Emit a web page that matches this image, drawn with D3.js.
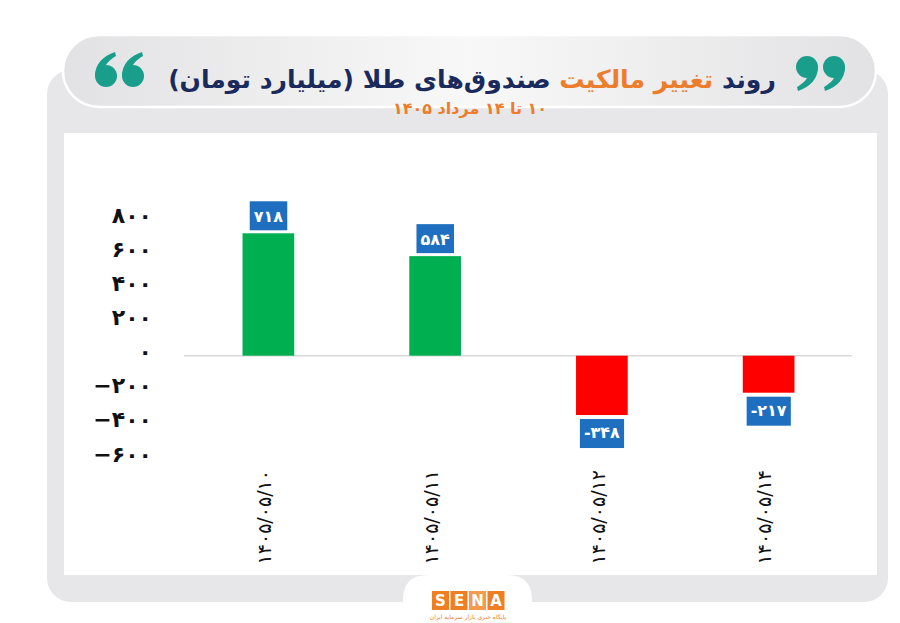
<!DOCTYPE html>
<html>
<head>
<meta charset="utf-8">
<script src="https://cdn.jsdelivr.net/npm/d3@7"></script>
<style>
  html, body { margin: 0; padding: 0; background: #fff; }
  svg { display: block; font-family: "DejaVu Sans", sans-serif; }
</style>
</head>
<body>
<svg id="chart" width="900" height="623"></svg>
<script>
// data
const dates = ["۱۴۰۵/۰۵/۱۰", "۱۴۰۵/۰۵/۱۱", "۱۴۰۵/۰۵/۱۲", "۱۴۰۵/۰۵/۱۴"];
const values = [718, 584, -348, -217];
const valueLabels = ["۷۱۸", "۵۸۴", "-۳۴۸", "-۲۱۷"];
const yTicks = [800, 600, 400, 200, 0, -200, -400, -600];
const yTickLabels = ["۸۰۰", "۶۰۰", "۴۰۰", "۲۰۰", "۰", "−۲۰۰", "−۴۰۰", "−۶۰۰"];

const width = 900, height = 623;
const svg = d3.select("#chart");
const defs = svg.append("defs");

const headGrad = defs.append("linearGradient")
    .attr("id", "headGrad")
    .attr("x1", "0%").attr("x2", "100%").attr("y1", "0%").attr("y2", "0%");
headGrad.append("stop").attr("offset", "0%").attr("stop-color", "#e2e2e4");
headGrad.append("stop").attr("offset", "50%").attr("stop-color", "#f8f8f8");
headGrad.append("stop").attr("offset", "100%").attr("stop-color", "#e2e2e4");

// frame
svg.append("rect")
    .attr("x", 47).attr("y", 70).attr("width", 841).attr("height", 532)
    .attr("rx", 24).attr("fill", "#e7e7e9");
svg.append("rect")
    .attr("x", 64).attr("y", 133).attr("width", 813).attr("height", 442)
    .attr("fill", "#fff");

// header pill
svg.append("rect")
    .attr("x", 63).attr("y", 35).attr("width", 813).attr("height", 72)
    .attr("rx", 36).attr("fill", "url(#headGrad)")
    .attr("stroke", "#fff").attr("stroke-width", 2.5);

// title
const title = svg.append("text")
    .attr("x", 472).attr("y", 88)
    .attr("direction", "rtl")
    .attr("text-anchor", "middle")
    .attr("font-size", 30)
    .attr("font-weight", "bold")
    .attr("fill", "#1b2a5c");
title.append("tspan").text("روند ");
title.append("tspan").attr("fill", "#ec7d2c").text("تغییر مالکیت");
title.append("tspan").text(" صندوق‌های طلا (میلیارد تومان)");

const tw = title.node().getComputedTextLength();
if (tw > 0) title.attr("font-size", 30 * 608 / tw);

svg.append("text")
    .attr("x", 470).attr("y", 114)
    .attr("direction", "rtl")
    .attr("text-anchor", "middle")
    .attr("font-size", 16)
    .attr("font-weight", "bold")
    .attr("fill", "#ec7d2c")
    .text("۱۰ تا ۱۴ مرداد ۱۴۰۵");

// quote marks
const teal = "#1a9e8c";
function quote(x, y, flip) {
    // one comma-like glyph; flip=true gives the opening "6" shape
    const g = svg.append("g")
        .attr("transform", `translate(${x},${y})` + (flip ? " rotate(180)" : ""));
    g.append("circle").attr("cx", 0).attr("cy", 0).attr("r", 11).attr("fill", teal);
    g.append("path")
        .attr("d", "M11,0 C11,12 3,20 -9,24 L-10,20 C-3,16 1,11 1,8 Z")
        .attr("fill", teal);
}
quote(807, 67, false);
quote(834, 67, false);
quote(133, 76, true);
quote(106, 76, true);

// chart
const x = d3.scaleBand()
    .domain(dates)
    .range([185, 852])
    .paddingInner(0.69)
    .paddingOuter(0.345);

const y = d3.scaleLinear()
    .domain([-600, 800])
    .range([458, 219.3]);

svg.append("line")
    .attr("x1", 184).attr("x2", 852)
    .attr("y1", y(0)).attr("y2", y(0))
    .attr("stroke", "#d9d9d9").attr("stroke-width", 1.5);

const yAxis = svg.append("g")
    .attr("transform", "translate(152,0)")
    .call(d3.axisLeft(y).tickValues(yTicks).tickSize(0).tickPadding(0)
        .tickFormat((d, i) => yTickLabels[i]));
yAxis.select(".domain").remove();
yAxis.selectAll("text")
    .attr("dy", "0.32em")
    .attr("y", -4)
    .attr("direction", "ltr")
    .attr("font-family", "DejaVu Sans")
    .attr("font-size", 22)
    .attr("font-weight", "bold")
    .attr("fill", "#111");

const data = dates.map((d, i) => ({ date: d, value: values[i], label: valueLabels[i] }));

svg.selectAll(".bar")
    .data(data)
    .join("rect")
    .attr("class", "bar")
    .attr("x", d => x(d.date))
    .attr("width", x.bandwidth())
    .attr("y", d => y(Math.max(0, d.value)))
    .attr("height", d => Math.abs(y(d.value) - y(0)))
    .attr("fill", d => d.value >= 0 ? "#00b050" : "#ff0000");

const tags = svg.selectAll(".tag")
    .data(data)
    .join("g")
    .attr("class", "tag");

tags.append("text")
    .attr("x", d => x(d.date) + x.bandwidth() / 2)
    .attr("y", d => d.value >= 0 ? y(d.value) - 11 : y(d.value) + 23)
    .attr("text-anchor", "middle")
    .attr("direction", "ltr")
    .attr("font-size", 16)
    .attr("font-weight", "bold")
    .attr("fill", "#fff")
    .text(d => d.label)
    .each(function (d) {
        const b = this.getBBox();
        const top = d.value >= 0 ? y(d.value) - 32 : y(d.value) + 4;
        d3.select(this.parentNode).insert("rect", "text")
            .attr("x", b.x - 4).attr("width", b.width + 8)
            .attr("y", top).attr("height", 29)
            .attr("fill", "#1f6fc0");
    });

// category labels, rotated
svg.append("g")
    .selectAll("text")
    .data(dates)
    .join("text")
    .attr("transform", d => `translate(${x(d) + x.bandwidth() / 2 - 4},470) rotate(-90)`)
    .attr("text-anchor", "end")
    .attr("dy", "0.35em")
    .attr("direction", "ltr")
    .attr("font-size", 19)
    .attr("fill", "#111")
    .text(d => d);

// logo tab
svg.append("path")
    .attr("d", "M403,623 L403,600 Q403,575 428,575 L507,575 Q532,575 532,600 L532,623 Z")
    .attr("fill", "#fff");
const letters = ["S", "E", "N", "A"];
const logo = svg.append("g");
letters.forEach((l, i) => {
    logo.append("rect")
        .attr("x", 432 + i * 18.5).attr("y", 591)
        .attr("width", 17).attr("height", 19)
        .attr("fill", i === 2 ? "#f59a4f" : "#ef7f22");
    logo.append("text")
        .attr("x", 432 + i * 18.5 + 8.5).attr("y", 606)
        .attr("text-anchor", "middle")
        .attr("font-size", 15).attr("font-weight", "bold")
        .attr("fill", "#fff")
        .text(l);
});
svg.append("text")
    .attr("x", 468).attr("y", 619)
    .attr("text-anchor", "middle")
    .attr("direction", "rtl")
    .attr("font-size", 6)
    .attr("fill", "#ef7f22")
    .text("پایگاه خبری بازار سرمایه ایران");
</script>
</body>
</html>
